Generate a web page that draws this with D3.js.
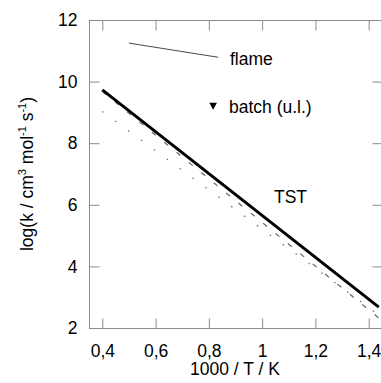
<!DOCTYPE html>
<html>
<head>
<meta charset="utf-8">
<script src="https://cdn.jsdelivr.net/npm/d3@7"></script>
<style>
  body { margin: 0; background: #fff; }
  svg { display: block; }
  text { font-family: "Liberation Sans", Arial, sans-serif; fill: #000; }
</style>
</head>
<body>
<svg width="381" height="383"></svg>
<script>
// values
var xTicks = [0.4, 0.6, 0.8, 1.0, 1.2, 1.4];
var yTicks = [2, 4, 6, 8, 10, 12];

var tstX = [0.4, 1.438];
var tstY = [9.73, 2.68];

var dashX = [0.4, 1.44];
var dashY = [9.68, 2.31];

var dotX = [0.4, 1.44];
var dotY = [9.03, 2.41];

var flameX = [0.5, 0.835];
var flameY = [11.25, 10.79];

var batchX = [0.816];
var batchY = [9.21];

var svg = d3.select("svg"),
    margin = {top: 20, right: -1, bottom: 55, left: 89},
    width = +svg.attr("width") - margin.left - margin.right,
    height = +svg.attr("height") - margin.top - margin.bottom;

var x = d3.scaleLinear().domain([0.35, 1.45]).range([0, width]);
var y = d3.scaleLinear().domain([2, 12]).range([height, 0]);

var g = svg.append("g")
    .attr("transform", "translate(" + margin.left + "," + margin.top + ")");

var fmt = function(d) { return String(d).replace(".", ","); };
var frame = "#8c8c8c";

// frame
g.append("rect")
    .attr("x", 0.5).attr("y", 0.5)
    .attr("width", width).attr("height", height)
    .attr("fill", "none")
    .attr("stroke", frame);

// inward ticks, all four sides
function ticks(axis, sel) {
  sel.call(axis);
  sel.select(".domain").remove();
  sel.selectAll(".tick line").attr("stroke", frame);
}

g.append("g")
    .attr("transform", "translate(0," + (height + 0.5) + ")")
    .call(function(s) { ticks(d3.axisBottom(x).tickValues(xTicks).tickSizeInner(-10).tickPadding(16).tickFormat(fmt), s); })
    .selectAll("text").attr("font-size", "17.5px").attr("font-family", null);

g.append("g")
    .attr("transform", "translate(0,0.5)")
    .call(function(s) { ticks(d3.axisTop(x).tickValues(xTicks).tickSizeInner(-10).tickFormat(""), s); });

g.append("g")
    .attr("transform", "translate(0.5,0)")
    .call(function(s) { ticks(d3.axisLeft(y).tickValues(yTicks).tickSizeInner(-10).tickPadding(12).tickFormat(d3.format("d")), s); })
    .selectAll("text").attr("font-size", "17.5px").attr("font-family", null);

g.append("g")
    .attr("transform", "translate(" + (width + 0.5) + ",0)")
    .call(function(s) { ticks(d3.axisRight(y).tickValues(yTicks).tickSizeInner(-10).tickFormat(""), s); });

// lines
var line = d3.line()
    .x(function(d) { return x(d[0]); })
    .y(function(d) { return y(d[1]); });

g.append("path")
    .datum(d3.zip(dotX, dotY))
    .attr("d", line)
    .attr("fill", "none")
    .attr("stroke", "#666")
    .attr("stroke-width", 1.2)
    .attr("stroke-dasharray", "1.5,14.5");

g.append("path")
    .datum(d3.zip(dashX, dashY))
    .attr("d", line)
    .attr("fill", "none")
    .attr("stroke", "#666")
    .attr("stroke-width", 1.2)
    .attr("stroke-dasharray", "5,11");

g.append("path")
    .datum(d3.zip(tstX, tstY))
    .attr("d", line)
    .attr("fill", "none")
    .attr("stroke", "#000")
    .attr("stroke-width", 3);

g.append("path")
    .datum(d3.zip(flameX, flameY))
    .attr("d", line)
    .attr("fill", "none")
    .attr("stroke", "#333")
    .attr("stroke-width", 0.9);

g.selectAll(".batch")
    .data(d3.zip(batchX, batchY))
  .enter().append("path")
    .attr("class", "batch")
    .attr("transform", function(d) { return "translate(" + x(d[0]) + "," + y(d[1]) + ")"; })
    .attr("d", "M-3.8,-3.3L3.8,-3.3L0,3.7Z")
    .attr("fill", "#000");

// labels
g.append("text").attr("x", 141).attr("y", 45).attr("font-size", "17.5px").text("flame");
g.append("text").attr("x", 140).attr("y", 93).attr("font-size", "17.5px").text("batch (u.l.)");
g.append("text").attr("x", 185).attr("y", 183).attr("font-size", "17.5px").text("TST");

svg.append("text")
    .attr("x", 235).attr("y", 375)
    .attr("text-anchor", "middle")
    .attr("font-size", "17.5px")
    .text("1000 / T / K");

var yl = svg.append("text")
    .attr("transform", "translate(33,174) rotate(-90)")
    .attr("text-anchor", "middle")
    .attr("font-size", "17.5px");
yl.append("tspan").text("log(k / cm");
yl.append("tspan").attr("dy", -7).attr("font-size", "11px").text("3");
yl.append("tspan").attr("dy", 7).text(" mol");
yl.append("tspan").attr("dy", -7).attr("font-size", "11px").text("-1");
yl.append("tspan").attr("dy", 7).text(" s");
yl.append("tspan").attr("dy", -7).attr("font-size", "11px").text("-1");
yl.append("tspan").attr("dy", 7).text(")");
</script>
</body>
</html>
